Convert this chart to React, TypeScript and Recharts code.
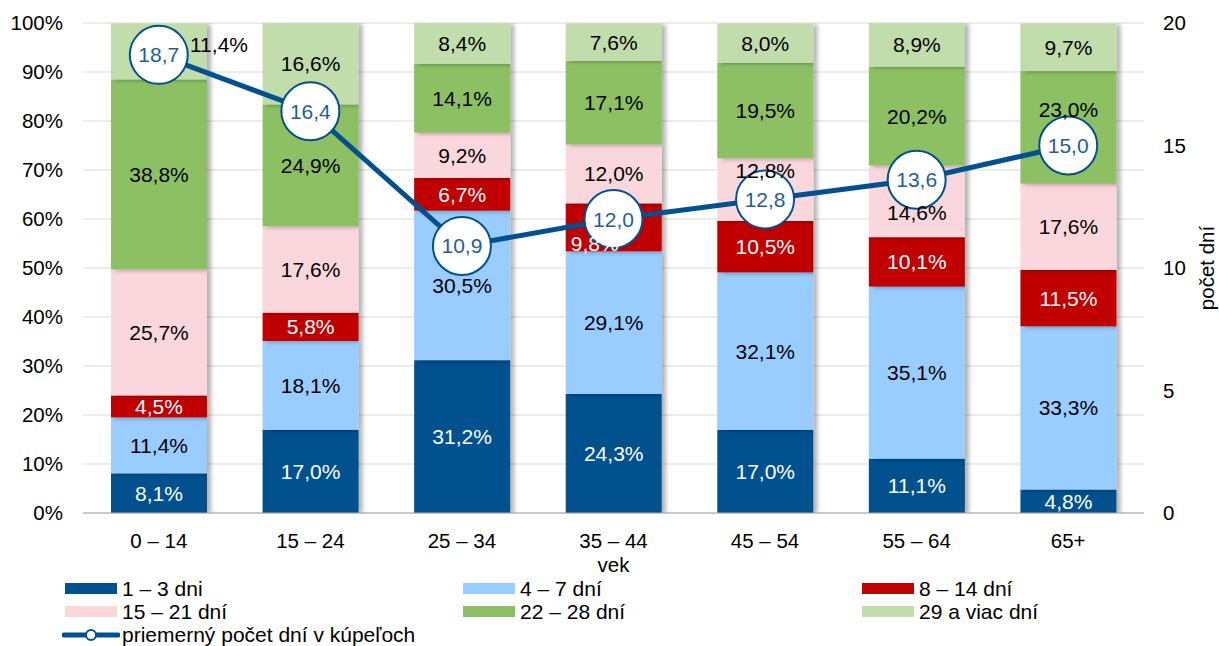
import React from 'react';
import { ComposedChart, Bar, Line, XAxis, YAxis, CartesianGrid, LabelList } from 'recharts';

const ageGroups = ['0 – 14', '15 – 24', '25 – 34', '35 – 44', '45 – 54', '55 – 64', '65+'];
const days1to3 = [8.1, 17.0, 31.2, 24.3, 17.0, 11.1, 4.8];
const days4to7 = [11.4, 18.1, 30.5, 29.1, 32.1, 35.1, 33.3];
const days8to14 = [4.5, 5.8, 6.7, 9.8, 10.5, 10.1, 11.5];
const days15to21 = [25.7, 17.6, 9.2, 12.0, 12.8, 14.6, 17.6];
const days22to28 = [38.8, 24.9, 14.1, 17.1, 19.5, 20.2, 23.0];
const days29plus = [11.4, 16.6, 8.4, 7.6, 8.0, 8.9, 9.7];
const avgDays = [18.7, 16.4, 10.9, 12.0, 12.8, 13.6, 15.0];

const percentTicks = [0, 10, 20, 30, 40, 50, 60, 70, 80, 90, 100];
const dayTicks = [0, 5, 10, 15, 20];

const series = [
    { key: 'd1', name: '1 – 3 dni', values: days1to3, color: '#00518E', text: '#ffffff' },
    { key: 'd4', name: '4 – 7 dní', values: days4to7, color: '#99CCFF', text: '#000000' },
    { key: 'd8', name: '8 – 14 dní', values: days8to14, color: '#C00000', text: '#ffffff' },
    { key: 'd15', name: '15 – 21 dní', values: days15to21, color: '#FAD7DD', text: '#000000' },
    { key: 'd22', name: '22 – 28 dní', values: days22to28, color: '#8CC064', text: '#000000' },
    { key: 'd29', name: '29 a viac dní', values: days29plus, color: '#C1DDAB', text: '#000000' },
];
const lineName = 'priemerný počet dní v kúpeľoch';
const lineColor = '#00518E';

const data = ageGroups.map((age, i) => {
    const row: any = { age, avg: avgDays[i] };
    series.forEach(s => { row[s.key] = s.values[i]; });
    return row;
});

// labels that were moved by hand in the original to dodge the circles
const labelNudge: Record<string, [number, number]> = {
    'd29-0': [60, -7],
    'd8-3': [-19, 16],
    'd15-4': [0, -19],
    'd15-5': [0, 11],
    'd22-6': [0, -18],
};

const FONT = '"Liberation Sans", Arial, sans-serif';
const fmt = (v: number) => v.toFixed(1).replace('.', ',');

const ShadowRect = (props: any) => {
    const { x, y, width, height, fill } = props;
    if (!height || height <= 0) return null;
    return <rect x={x} y={y} width={width} height={height} fill={fill} filter="url(#barShadow)" />;
};

const makeLabel = (color: string, key: string) => (props: any) => {
    const { x, y, width, height, value, index } = props;
    const [dx, dy] = labelNudge[key + '-' + index] || [0, 0];
    return (
        <text x={x + width / 2 + dx} y={y + height / 2 + dy} textAnchor="middle" dominantBaseline="central"
            fill={color} fontSize={21} fontFamily={FONT}>
            {fmt(value) + '%'}
        </text>
    );
};

const AvgDot = (props: any) => {
    const { cx, cy, value, index } = props;
    return (
        <g key={'dot' + index}>
            <circle cx={cx} cy={cy} r={29} fill="#ffffff" stroke={lineColor} strokeWidth={2} />
            <text x={cx} y={cy} textAnchor="middle" dominantBaseline="central" fill="#1F5E9C"
                fontSize={21} fontFamily={FONT}>
                {fmt(value)}
            </text>
        </g>
    );
};

const legendRows = [
    [series[0], series[1], series[2]],
    [series[3], series[4], series[5]],
];
const legendCols = [65, 463, 862];

const Legend = () => (
    <div style={{ position: 'absolute', left: 0, top: 577, fontFamily: FONT, fontSize: 21, color: '#000' }}>
        {legendRows.map((row, r) => row.map((s, c) => (
            <div key={s.key} style={{ position: 'absolute', left: legendCols[c], top: r * 23, height: 23, display: 'flex', alignItems: 'center', whiteSpace: 'nowrap' }}>
                <div style={{ width: 52, height: 11, background: s.color, marginRight: 5 }} />
                <span>{s.name}</span>
            </div>
        )))}
        <div style={{ position: 'absolute', left: 62, top: 46, height: 23, display: 'flex', alignItems: 'center', whiteSpace: 'nowrap' }}>
            <svg width={58} height={14} style={{ marginRight: 2 }}>
                <line x1={2} y1={7} x2={56} y2={7} stroke={lineColor} strokeWidth={5} strokeLinecap="round" />
                <circle cx={29} cy={7} r={5} fill="#fff" stroke={lineColor} strokeWidth={2} />
            </svg>
            <span>{lineName}</span>
        </div>
    </div>
);

export default function App() {
    return (
        <div style={{ position: 'absolute', left: 0, top: 0, width: 1219, height: 646, background: '#fff' }}>
            <ComposedChart width={1219} height={646} data={data}
                margin={{ top: 23, right: 0, bottom: 73, left: 0 }}>
                <defs>
                    <filter id="barShadow" x="-10%" y="-10%" width="130%" height="130%">
                        <feDropShadow dx={4} dy={1} stdDeviation={2} floodColor="#000" floodOpacity={0.3} />
                    </filter>
                </defs>
                <CartesianGrid vertical={false} stroke="#d9d9d9" yAxisId="left" />
                <XAxis dataKey="age" height={60} tickLine={false} tickSize={0} tickMargin={20}
                    axisLine={{ stroke: '#a6a6a6' }}
                    tick={{ fill: '#000', fontSize: 20.5, fontFamily: FONT }}
                    label={{
                        content: (p: any) => {
                            const vb = p.viewBox;
                            return (
                                <text x={vb.x + vb.width / 2} y={vb.y + vb.height - 1} textAnchor="middle"
                                    fill="#000" fontSize={20.5} fontFamily={FONT}>vek</text>
                            );
                        },
                    }} />
                <YAxis yAxisId="left" width={83} domain={[0, 100]} allowDataOverflow ticks={percentTicks}
                    tickFormatter={(v: number) => v + '%'}
                    axisLine={false} tickLine={false} tickSize={0} tickMargin={20}
                    tick={{ fill: '#000', fontSize: 20.5, fontFamily: FONT }} />
                <YAxis yAxisId="right" orientation="right" width={75} domain={[0, 20]} allowDataOverflow ticks={dayTicks}
                    axisLine={false} tickLine={false} tickSize={0} tickMargin={19}
                    tick={{ fill: '#000', fontSize: 20.5, fontFamily: FONT, textAnchor: 'start' }}
                    label={{
                        content: (p: any) => {
                            const vb = p.viewBox;
                            const x = vb.x + vb.width - 13;
                            const y = vb.y + vb.height / 2;
                            return (
                                <text x={x} y={y} transform={`rotate(-90 ${x} ${y})`} textAnchor="middle"
                                    dominantBaseline="central" fill="#000" fontSize={20.5} fontFamily={FONT}>
                                    počet dní
                                </text>
                            );
                        },
                    }} />
                {series.map(s => (
                    <Bar key={s.key} dataKey={s.key} name={s.name} stackId="a" yAxisId="left" fill={s.color}
                        barSize={96} shape={ShadowRect} isAnimationActive={false}>
                        <LabelList dataKey={s.key} content={makeLabel(s.text, s.key)} />
                    </Bar>
                ))}
                <Line dataKey="avg" name={lineName} yAxisId="right" type="linear" stroke={lineColor}
                    strokeWidth={5} dot={AvgDot} activeDot={false} isAnimationActive={false} />
            </ComposedChart>
            <Legend />
        </div>
    );
}
